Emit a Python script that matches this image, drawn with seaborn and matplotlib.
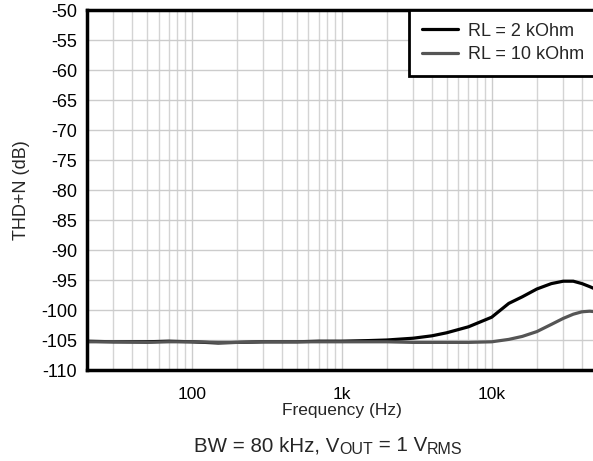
import numpy as np
import pandas as pd
import matplotlib
matplotlib.use("Agg")
import matplotlib.pyplot as plt
import seaborn as sns
from matplotlib.ticker import FixedLocator, NullFormatter, LogLocator

freq = [20, 30, 50, 70, 100, 150, 200, 300, 500, 700, 1000, 1500, 2000, 3000,
        4000, 5000, 7000, 10000, 13000, 16000, 20000, 25000, 30000, 35000,
        40000, 45000, 50000]
thd_2k = [-105.2, -105.3, -105.3, -105.2, -105.3, -105.5, -105.4, -105.3, -105.3,
          -105.2, -105.2, -105.1, -105.0, -104.7, -104.3, -103.8, -102.8, -101.2,
          -98.9, -97.8, -96.5, -95.6, -95.2, -95.2, -95.6, -96.1, -96.6]
thd_10k = [-105.3, -105.3, -105.4, -105.3, -105.3, -105.4, -105.4, -105.3, -105.3,
           -105.3, -105.3, -105.3, -105.3, -105.4, -105.4, -105.4, -105.4, -105.3,
           -104.9, -104.4, -103.6, -102.4, -101.4, -100.7, -100.3, -100.2, -100.3]
series_names = ["RL = 2 kOhm", "RL = 10 kOhm"]
series_colors = ["#000000", "#555555"]
yticks = list(range(-110, -45, 5))
xtick_vals = [100, 1000, 10000]
xtick_labels = ["100", "1k", "10k"]
caption_parts = [("BW = 80 kHz, V", False), ("OUT", True), (" = 1 V", False), ("RMS", True)]

df = pd.concat([
    pd.DataFrame({"f": freq, "thd": thd_2k, "s": series_names[0]}),
    pd.DataFrame({"f": freq, "thd": thd_10k, "s": series_names[1]}),
])

sns.set_style("white")
plt.rcParams["font.family"] = ["Liberation Sans", "DejaVu Sans"]

fig = plt.figure(figsize=(5.93, 4.61), dpi=100)
ax = fig.add_axes([87 / 593, 1 - 370 / 461, (596.5 - 87) / 593, 360 / 461])

sns.lineplot(data=df, x="f", y="thd", hue="s", palette=series_colors,
             hue_order=series_names, linewidth=2.3, ax=ax, legend=True)

ax.set_xscale("log")
ax.set_xlim(20, 50000)
ax.set_ylim(-110, -50)
ax.set_yticks(yticks)
ax.set_yticklabels([str(v) for v in yticks])
ax.xaxis.set_major_locator(FixedLocator(xtick_vals))
ax.set_xticklabels(xtick_labels)
ax.xaxis.set_minor_locator(LogLocator(base=10, subs=np.arange(2, 10)))
ax.xaxis.set_minor_formatter(NullFormatter())
ax.tick_params(axis="y", which="both", length=0, labelsize=13, colors="black", pad=7)
ax.tick_params(axis="x", which="both", length=0, labelsize=12.5, colors="black", pad=12)

ax.grid(True, which="major", color="#cccccc", linewidth=1)
ax.grid(True, which="minor", axis="x", color="#d4d4d4", linewidth=1)
ax.set_axisbelow(True)

for side in ["left", "bottom", "top", "right"]:
    ax.spines[side].set_visible(True)
    ax.spines[side].set_color("black")
    ax.spines[side].set_linewidth(2.5)

ax.set_xlabel("Frequency (Hz)", fontsize=12.5, labelpad=1)
ax.set_ylabel("THD+N (dB)", fontsize=13, labelpad=8)

leg = ax.legend(loc="upper right", borderaxespad=0, fontsize=13, frameon=True,
                fancybox=False, handlelength=2.0, handletextpad=0.55,
                borderpad=0.7, labelspacing=0.35)
leg.get_frame().set_edgecolor("black")
leg.get_frame().set_linewidth(2)
leg.get_frame().set_alpha(1)

# caption built from pieces so subscripts can be sized like the reference
fig.canvas.draw()
renderer = fig.canvas.get_renderer()
W, H = fig.bbox.width, fig.bbox.height
base_y = 451.0  # baseline in pixels from top
texts = []
x = 0.0
for s, sub in caption_parts:
    t = fig.text(x / W, 1 - (base_y + (3.5 if sub else 0)) / H, s,
                 fontsize=11.5 if sub else 14.8, ha="left", va="baseline")
    ext = t.get_window_extent(renderer)
    texts.append(t)
    x += ext.width
total = x
start = 328 - total / 2
x = start
for t in texts:
    ext = t.get_window_extent(renderer)
    pos = t.get_position()
    t.set_position((x / W, pos[1]))
    x += ext.width

fig.savefig("out.png", dpi=100)
